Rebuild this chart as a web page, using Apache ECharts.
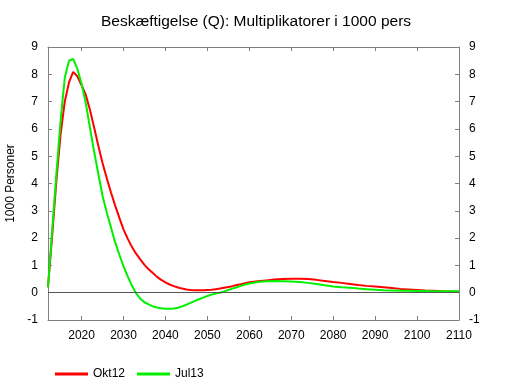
<!DOCTYPE html>
<html>
<head>
<meta charset="utf-8">
<script src="https://cdn.jsdelivr.net/npm/echarts@6/dist/echarts.min.js"></script>
<style>html,body{margin:0;padding:0;background:#fff}#c{width:512px;height:389px}</style>
</head>
<body>
<div id="c"></div>
<script>
var years = [2012,2013,2014,2015,2016,2017,2018,2019,2020,2021,2022,2023,2024,2025,2026,2027,2028,2029,2030,
  2031,2032,2033,2034,2035,2036,2037,2038,2039,2040,2041,2042,2043,2044,2045,2046,2047,2048,2049,2050,
  2051,2052,2053,2054,2055,2056,2057,2058,2059,2060,
  2062,2064,2066,2068,2070,2072,2074,2076,2078,2080,2082,2084,2086,2088,2090,2092,2094,2096,2098,2100,
  2102,2104,2106,2108,2110];
var okt12 = [0.2,2.1,4.1,5.8,7.0,7.7,8.09,7.93,7.6,7.25,6.7,6.05,5.38,4.75,4.2,3.68,3.2,2.75,2.32,
  1.98,1.68,1.43,1.22,1.02,0.86,0.72,0.58,0.47,0.38,0.3,0.24,0.19,0.15,0.12,0.1,0.09,0.09,0.09,0.1,
  0.11,0.13,0.15,0.18,0.21,0.24,0.28,0.31,0.35,0.38,
  0.42,0.45,0.48,0.5,0.51,0.51,0.5,0.47,0.43,0.39,0.36,0.32,0.28,0.25,0.23,0.2,0.17,0.14,0.12,0.1,
  0.08,0.07,0.05,0.04,0.03];
var jul13 = [0.2,2.3,4.35,6.3,7.87,8.5,8.56,8.2,7.65,6.95,6.05,5.17,4.35,3.55,2.95,2.4,1.85,1.4,0.97,
  0.6,0.26,-0.02,-0.22,-0.35,-0.43,-0.5,-0.54,-0.57,-0.59,-0.59,-0.58,-0.55,-0.5,-0.44,-0.37,-0.3,-0.24,-0.18,-0.12,
  -0.07,-0.03,0.0,0.05,0.1,0.15,0.2,0.25,0.3,0.34,
  0.39,0.42,0.43,0.42,0.41,0.39,0.36,0.32,0.27,0.23,0.2,0.18,0.15,0.13,0.11,0.09,0.08,0.07,0.07,0.06,
  0.06,0.05,0.05,0.05,0.05];
var xTicks = [2020,2030,2040,2050,2060,2070,2080,2090,2100,2110];
var seriesNames = ['Okt12','Jul13'];
var titleText = 'Beskæftigelse (Q): Multiplikatorer i 1000 pers';
var yName = '1000 Personer';

function pairs(xs, ys){ return xs.map(function(x,i){ return [x, ys[i]]; }); }

var font = 'Liberation Sans, Arial, sans-serif';
var axisColor = '#808080';
var chart = echarts.init(document.getElementById('c'), null, {renderer:'canvas'});
var xBase = {
  type:'value', min:2012, max:2110,
  axisLine:{show:true, onZero:false, lineStyle:{color:axisColor, width:1}},
  axisTick:{show:true, inside:true, length:4, customValues:xTicks, lineStyle:{color:axisColor}},
  splitLine:{show:false}
};
var yBase = {
  type:'value', min:-1, max:9, interval:1,
  axisLine:{show:true, onZero:false, lineStyle:{color:axisColor, width:1}},
  axisTick:{show:true, inside:true, length:4, lineStyle:{color:axisColor}},
  splitLine:{show:false}
};
chart.setOption({
  animation:false,
  backgroundColor:'#fff',
  title:{text:titleText, left:'center', top:9, textStyle:{fontFamily:font, fontSize:15.5, fontWeight:'normal', color:'#000'}},
  grid:{left:48, right:53, top:47, bottom:69, containLabel:false, outerBoundsMode:'none'},
  legend:{
    data:seriesNames, left:50, top:363, icon:'rect', itemWidth:33, itemHeight:3, itemGap:12,
    textStyle:{fontFamily:font, fontSize:12, color:'#000'}
  },
  xAxis:[
    Object.assign({}, xBase, {position:'bottom',
      axisLabel:{show:true, customValues:xTicks, color:'#000', fontFamily:font, fontSize:12, margin:10,
        formatter:function(v){ return String(v); }}}),
    Object.assign({}, xBase, {position:'top', axisLabel:{show:false}})
  ],
  yAxis:[
    Object.assign({}, yBase, {position:'left', name:yName, nameLocation:'middle', nameRotate:90, nameGap:30,
      nameTextStyle:{fontFamily:font, fontSize:12, color:'#000'},
      axisLabel:{color:'#000', fontFamily:font, fontSize:12, margin:10}}),
    Object.assign({}, yBase, {position:'right', axisLabel:{color:'#000', fontFamily:font, fontSize:12, margin:10}})
  ],
  series:[
    {name:'zero', type:'line', data:[], z:1, silent:true,
      markLine:{silent:true, symbol:'none', label:{show:false}, animation:false,
        lineStyle:{color:'#555', width:1, type:'solid'}, data:[{yAxis:0}]}},
    {name:seriesNames[0], type:'line', data:pairs(years, okt12), showSymbol:false, symbol:'none', z:3,
      lineStyle:{color:'#ff0000', width:2}, itemStyle:{color:'#ff0000'}},
    {name:seriesNames[1], type:'line', data:pairs(years, jul13), showSymbol:false, symbol:'none', z:4,
      lineStyle:{color:'#00f000', width:2}, itemStyle:{color:'#00f000'}}
  ]
});
</script>
</body>
</html>
